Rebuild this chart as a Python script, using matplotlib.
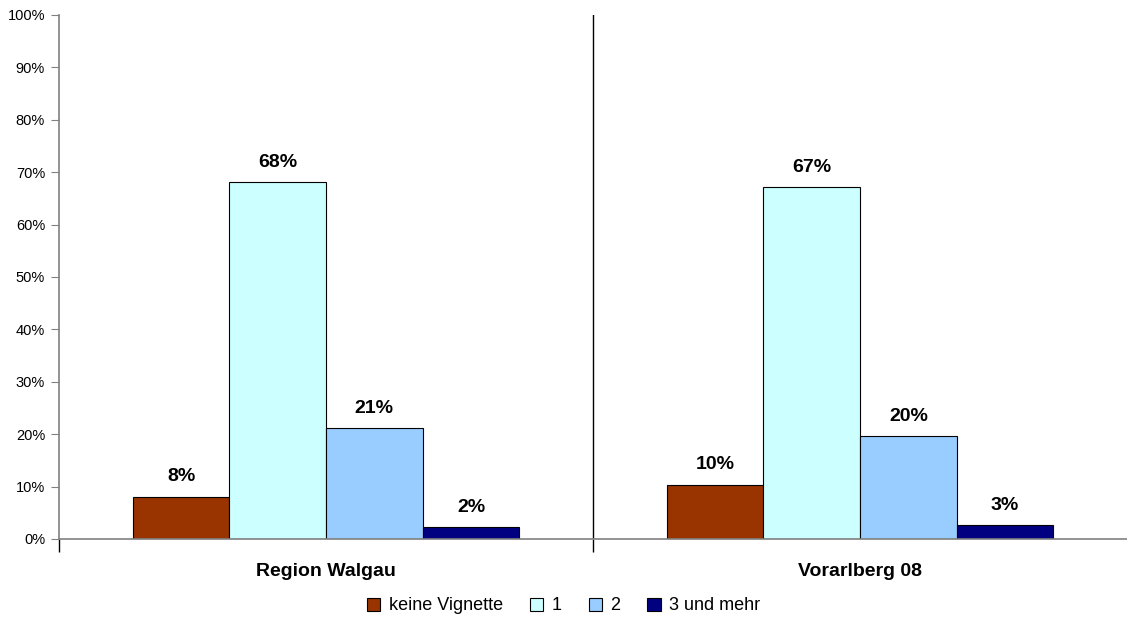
import numpy as np
import matplotlib.pyplot as plt

regions = ['Region Walgau', 'Vorarlberg 08']
series = ['keine Vignette', '1', '2', '3 und mehr']
walgau = [8.1, 68.2, 21.2, 2.2]
vorarlberg = [10.4, 67.2, 19.7, 2.7]
colors = ['#993300', '#CCFFFF', '#99CCFF', '#000080']

plt.rcParams['font.family'] = ['Liberation Sans', 'DejaVu Sans']

fig = plt.figure(figsize=(11.27, 6.24), dpi=100)
ax = fig.add_axes([59 / 1127, 1 - 539 / 624, 1 - 59 / 1127, (539 - 15) / 624])

values = np.array([walgau, vorarlberg])
x = np.arange(len(regions))
width = 0.181
for i, name in enumerate(series):
    pos = x + (i - 1.5) * width
    bars = ax.bar(pos, values[:, i], width, color=colors[i], edgecolor='black',
                  linewidth=0.8, label=name)
    for b, v in zip(bars, values[:, i]):
        ax.annotate(f'{v:.0f}%', (b.get_x() + b.get_width() / 2, v),
                    xytext=(0, 8), textcoords='offset points',
                    ha='center', va='bottom', fontsize=14, fontweight='bold')

ax.set_xlim(-0.5, 1.5)
ax.set_ylim(0, 100)
ax.set_yticks(np.arange(0, 101, 10))
ax.set_yticklabels([f'{t}%' for t in range(0, 101, 10)], fontsize=10.5)
ax.tick_params(axis='y', length=6, color='#808080', pad=4)

# group separator + category labels
ax.set_xticks([-0.5, 0.5])
ax.set_xticklabels([])
ax.tick_params(axis='x', which='major', length=9, color='black', width=1)
ax.set_xticks(x, minor=True)
ax.set_xticklabels(regions, minor=True, fontsize=14, fontweight='bold')
ax.tick_params(axis='x', which='minor', length=0, pad=17)
ax.axvline(0.5, color='black', linewidth=1)

for s in ['top', 'right']:
    ax.spines[s].set_visible(False)
for s in ['left', 'bottom']:
    ax.spines[s].set_color('#808080')
    ax.spines[s].set_linewidth(1.2)

fig.legend(loc='center', bbox_to_anchor=(0.5, 1 - 606 / 624), ncol=4,
           frameon=False, fontsize=13, handlelength=0.75, handleheight=0.75,
           handletextpad=0.45, columnspacing=1.5)

fig.savefig('out.png', dpi=100)
